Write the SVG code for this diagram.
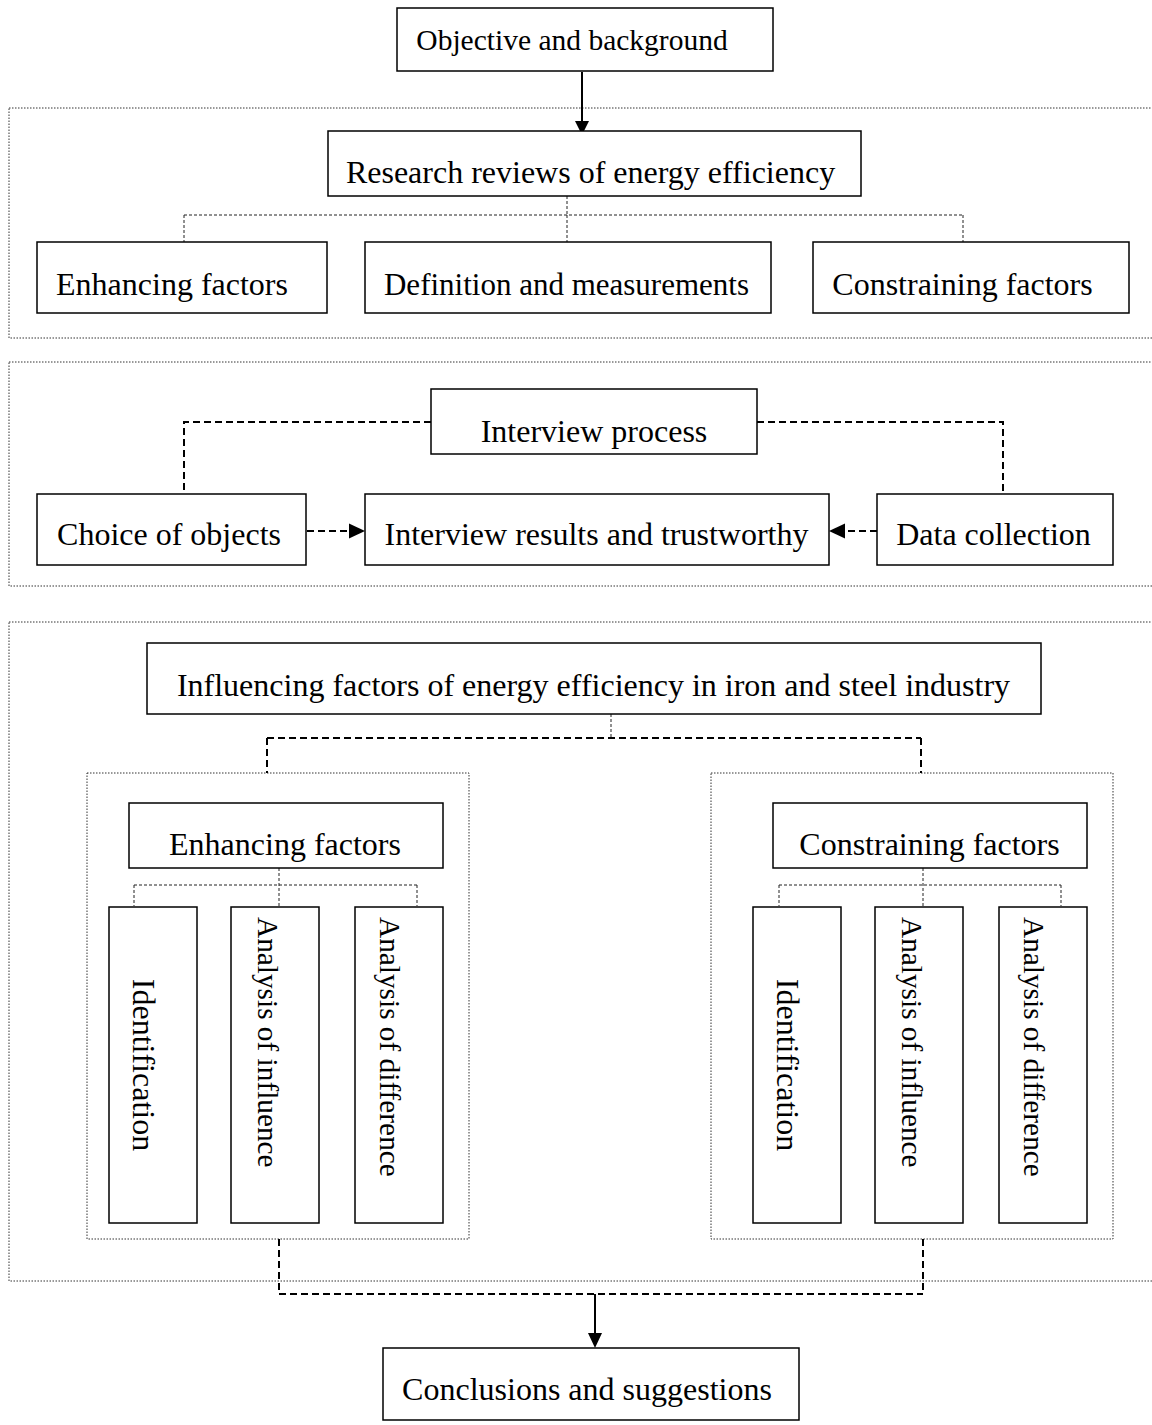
<svg xmlns="http://www.w3.org/2000/svg" width="1152" height="1425" viewBox="0 0 1152 1425">
<style>
.bg{fill:#ffffff}
.box{fill:#ffffff;stroke:#000000;stroke-width:1.5}
.sec{fill:none;stroke:#333333;stroke-width:1;stroke-dasharray:1.5,1.5}
.thin{fill:none;stroke:#222222;stroke-width:1;stroke-dasharray:3,2}
.thick{fill:none;stroke:#000000;stroke-width:2;stroke-dasharray:7,4}
.solid{fill:none;stroke:#000000;stroke-width:2}
.head{fill:#000000;stroke:none}
text{font-family:"Liberation Serif","Times New Roman",serif;fill:#000000;font-size:32px}
.c{text-anchor:middle}
</style>
<rect class="bg" x="0" y="0" width="1152" height="1425"/>
<g id="sections">
<rect class="sec" x="9" y="108" width="1160" height="230"/>
<rect class="sec" x="9" y="362" width="1160" height="224"/>
<rect class="sec" x="9" y="622" width="1160" height="659"/>
<rect class="sec" x="87" y="773" width="382" height="466"/>
<rect class="sec" x="711" y="773" width="402" height="466"/>
</g>
<g id="connectors">
<path class="solid" d="M582,72 V122"/>
<polygon class="head" points="575,121 589,121 582,135"/>
<path class="thin" d="M567,196 V215 M184,215 H963 M184,215 V242 M963,215 V242 M567,215 V242"/>
<path class="thick" d="M431,422 H184 V494 M757,422 H1003 V494"/>
<path class="thick" d="M307,531 H350"/>
<polygon class="head" points="349,523.5 365,531 349,538.5"/>
<path class="thick" d="M877,531 H845"/>
<polygon class="head" points="845,523.5 829,531 845,538.5"/>
<path class="thin" d="M611,714 V738"/>
<path class="thick" d="M267,738 H921 M267,738 V773 M921,738 V773"/>
<path class="thin" d="M279,868 V906 M134,885 H417 M134,885 V906 M417,885 V906"/>
<path class="thin" d="M923,868 V906 M779,885 H1061 M779,885 V906 M1061,885 V906"/>
<path class="thick" d="M279,1239 V1294 M923,1239 V1294 M279,1294 H923"/>
<path class="solid" d="M595,1294 V1334"/>
<polygon class="head" points="588,1333 602,1333 595,1348"/>
</g>
<g id="objective"><rect class="box" x="397" y="8" width="376" height="63"/><text class="c" x="572" y="50" style="font-size:29.5px">Objective and background</text></g>
<g id="research"><rect class="box" x="328" y="131" width="533" height="65"/><text class="c" x="590.5" y="183">Research reviews of energy efficiency</text></g>
<g id="enhancing1"><rect class="box" x="37" y="242" width="290" height="71"/><text class="c" x="172" y="295">Enhancing factors</text></g>
<g id="definition"><rect class="box" x="365" y="242" width="406" height="71"/><text class="c" x="566.5" y="295" style="font-size:31px">Definition and measurements</text></g>
<g id="constraining1"><rect class="box" x="813" y="242" width="316" height="71"/><text class="c" x="962.5" y="295">Constraining factors</text></g>
<g id="interview"><rect class="box" x="431" y="389" width="326" height="65"/><text class="c" x="594" y="442">Interview process</text></g>
<g id="choice"><rect class="box" x="37" y="494" width="269" height="71"/><text class="c" x="169" y="545">Choice of objects</text></g>
<g id="results"><rect class="box" x="365" y="494" width="464" height="71"/><text class="c" x="596.5" y="545">Interview results and trustworthy</text></g>
<g id="data"><rect class="box" x="877" y="494" width="236" height="71"/><text class="c" x="993.5" y="545">Data collection</text></g>
<g id="influencing"><rect class="box" x="147" y="643" width="894" height="71"/><text class="c" x="593.5" y="696">Influencing factors of energy efficiency in iron and steel industry</text></g>
<g id="enhancing2"><rect class="box" x="129" y="803" width="314" height="65"/><text class="c" x="285" y="855">Enhancing factors</text></g>
<g id="constraining2"><rect class="box" x="773" y="803" width="314" height="65"/><text class="c" x="929.5" y="855">Constraining factors</text></g>
<g id="identification1"><rect class="box" x="109" y="907" width="88" height="316"/><text class="c" transform="translate(133,1065) rotate(90)" x="0" y="0">Identification</text></g>
<g id="influence1"><rect class="box" x="231" y="907" width="88" height="316"/><text transform="translate(258,917) rotate(90)" x="0" y="0" style="font-size:29.3px">Analysis of influence</text></g>
<g id="difference1"><rect class="box" x="355" y="907" width="88" height="316"/><text transform="translate(380,917) rotate(90)" x="0" y="0" style="font-size:29.3px">Analysis of difference</text></g>
<g id="identification2"><rect class="box" x="753" y="907" width="88" height="316"/><text class="c" transform="translate(777,1065) rotate(90)" x="0" y="0">Identification</text></g>
<g id="influence2"><rect class="box" x="875" y="907" width="88" height="316"/><text transform="translate(902,917) rotate(90)" x="0" y="0" style="font-size:29.3px">Analysis of influence</text></g>
<g id="difference2"><rect class="box" x="999" y="907" width="88" height="316"/><text transform="translate(1024,917) rotate(90)" x="0" y="0" style="font-size:29.3px">Analysis of difference</text></g>
<g id="conclusions"><rect class="box" x="383" y="1348" width="416" height="72"/><text class="c" x="587" y="1400">Conclusions and suggestions</text></g>
</svg>
